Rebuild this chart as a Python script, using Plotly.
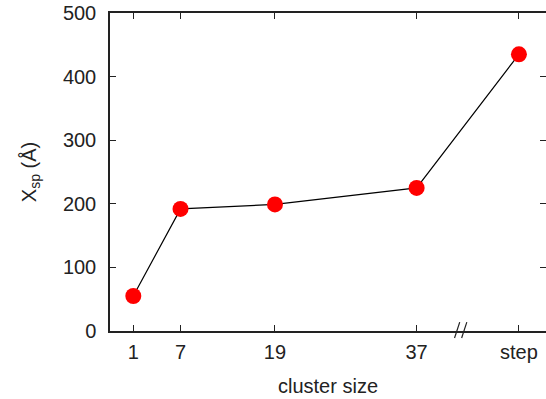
import plotly.graph_objects as go

# Data
categories = ["1", "7", "19", "37", "step"]
x_positions = [1, 7, 19, 37, 50]
x_sp_values = [55, 192, 199, 225, 435]
y_ticks = [0, 100, 200, 300, 400, 500]
break_pos = 42.6

FONT = "Liberation Sans, Arial, Helvetica, sans-serif"
TXT = "#222222"

fig = go.Figure()
fig.add_trace(go.Scatter(
    x=x_positions, y=x_sp_values, mode="lines+markers",
    line=dict(color="black", width=1.2),
    marker=dict(color="#ff0000", size=16, line=dict(width=0)),
    showlegend=False, cliponaxis=False,
))

# axis break marks "//"
for dx in (-0.45, 0.45):
    fig.add_shape(type="line", xref="x", yref="paper",
                  x0=break_pos + dx - 0.33, y0=-0.022,
                  x1=break_pos + dx + 0.33, y1=0.028,
                  line=dict(color="#222", width=1.2))

fig.update_layout(
    width=546, height=399,
    margin=dict(l=110, r=0, t=13, b=68),
    paper_bgcolor="white", plot_bgcolor="white",
    font=dict(family=FONT, size=20, color=TXT),
)
fig.update_xaxes(
    range=[-1.96, 53.44], tickvals=x_positions, ticktext=categories,
    showline=True, linecolor="#222", linewidth=1.5, mirror="ticks",
    ticks="inside", ticklen=6, tickcolor="#222", tickwidth=1,
    showgrid=False, zeroline=False, automargin=False, ticklabelstandoff=2,
    ticklabeloverflow="allow",
    title=dict(text="cluster size", standoff=17, font=dict(size=20)),
)
fig.update_yaxes(
    range=[0, 500], tickvals=y_ticks,
    showline=True, linecolor="#222", linewidth=1.5, mirror="ticks",
    ticks="inside", ticklen=6, tickcolor="#222", tickwidth=1,
    showgrid=False, zeroline=False, ticklabelstandoff=8, automargin=False,
    ticklabeloverflow="allow",
    title=dict(text="X<sub>sp</sub> (Å)", standoff=21, font=dict(size=20)),
)

fig.write_html("out.html", config={"displayModeBar": False},
               post_script="document.body.style.margin='0';")
